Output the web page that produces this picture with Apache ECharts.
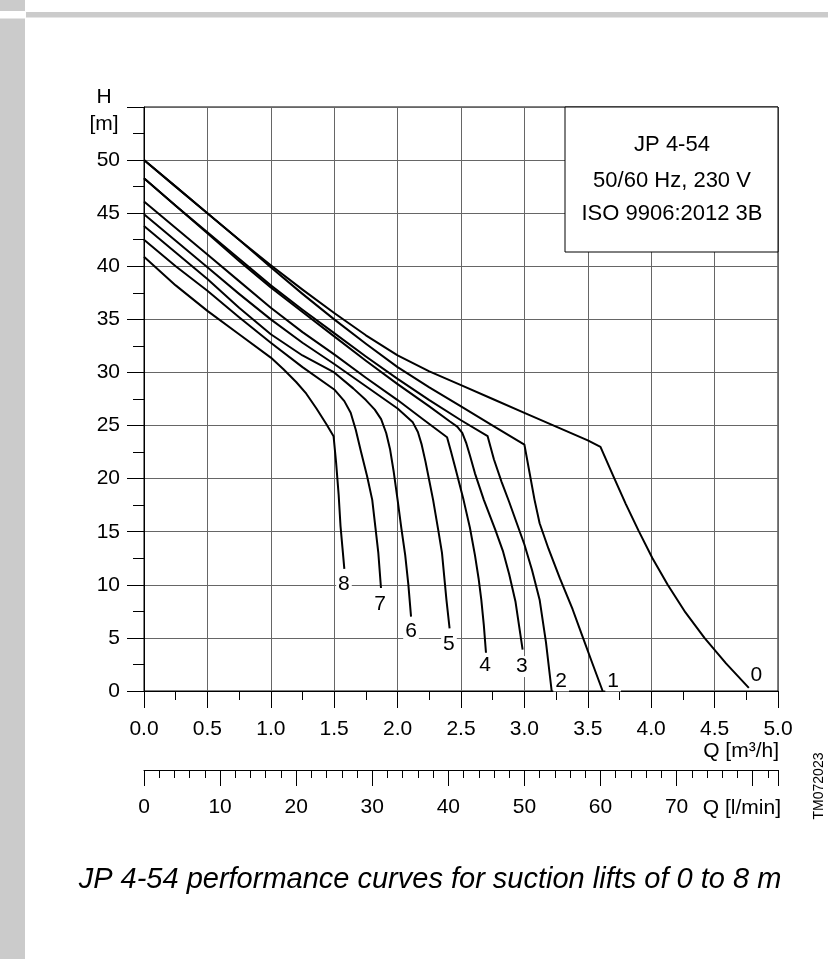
<!DOCTYPE html>
<html>
<head>
<meta charset="utf-8">
<script src="https://cdn.jsdelivr.net/npm/echarts@6/dist/echarts.min.js"></script>
<style>
  html, body { margin: 0; padding: 0; background: #fff; }
  #chart { width: 828px; height: 959px; }
</style>
</head>
<body>
<div id="chart"></div>
<script>
// performance curves, [Q m3/h, H m], one per suction lift 0..8 m
var curve0 = [[0,50],[0.25,47.5],[0.5,45],[0.75,42.5],[1,40.1],[1.25,37.8],[1.5,35.6],[1.75,33.5],[2,31.6],[2.25,30.1],[2.5,28.8],[2.75,27.5],[3,26.2],[3.25,24.9],[3.5,23.6],[3.6,23],[3.71,20],[3.8,17.6],[3.9,15.1],[4.01,12.5],[4.13,10],[4.27,7.4],[4.42,5],[4.59,2.6],[4.77,0.3]];
var curve1 = [[0,50],[0.25,47.5],[0.5,45],[0.75,42.5],[1,39.9],[1.25,37.4],[1.5,35],[1.75,32.7],[2,30.5],[2.25,28.6],[2.5,26.8],[2.75,25],[3,23.2],[3.04,20.6],[3.08,18],[3.12,15.8],[3.19,13.4],[3.28,10.6],[3.38,7.7],[3.45,5.4],[3.53,2.8],[3.617,0]];
var curve2 = [[0,48.3],[0.25,45.7],[0.5,43.2],[0.75,40.7],[1,38.2],[1.25,35.9],[1.5,33.7],[1.75,31.5],[2,29.4],[2.25,27.4],[2.5,25.5],[2.71,24],[2.76,21.8],[2.82,19.7],[2.88,17.8],[2.94,15.8],[3,13.8],[3.06,11.4],[3.12,8.6],[3.17,4.6],[3.215,0]];
var curve3 = [[0,48.3],[0.25,45.7],[0.5,43.1],[0.75,40.5],[1,38],[1.25,35.7],[1.5,33.4],[1.75,31.1],[2,28.9],[2.25,26.8],[2.41,25.4],[2.47,24.9],[2.51,24.3],[2.54,23.4],[2.57,22.2],[2.61,20.5],[2.68,18],[2.77,15.2],[2.83,13.2],[2.88,11],[2.93,8.4],[2.986,3.9]];
var curve4 = [[0,46.1],[0.25,43.6],[0.5,41.1],[0.75,38.6],[1,36.1],[1.25,33.8],[1.5,31.7],[1.75,29.5],[2,27.4],[2.2,25.6],[2.39,23.9],[2.42,22.6],[2.46,20.8],[2.52,18],[2.57,15.4],[2.61,12.8],[2.64,10.5],[2.66,8.6],[2.68,6.2],[2.697,3.6]];
var curve5 = [[0,44.9],[0.25,42.4],[0.5,39.9],[0.75,37.4],[1,35],[1.25,32.8],[1.5,30.8],[1.75,28.7],[2,26.6],[2.12,25.3],[2.16,24.4],[2.19,23.2],[2.22,21.6],[2.25,19.8],[2.28,18],[2.32,15.2],[2.35,13],[2.385,8.6],[2.41,5.9]];
var curve6 = [[0,43.8],[0.25,41.3],[0.5,38.8],[0.75,36.1],[1,33.6],[1.25,31.6],[1.5,30],[1.65,28.5],[1.75,27.4],[1.82,26.5],[1.87,25.6],[1.91,24.3],[1.94,22.8],[1.97,20.6],[2,18],[2.03,15.3],[2.06,12.8],[2.085,10],[2.106,7]];
var curve7 = [[0,42.5],[0.25,40],[0.5,37.7],[0.75,35.2],[1,32.8],[1.25,30.5],[1.5,28.4],[1.58,27.3],[1.63,26.2],[1.67,24.6],[1.71,22.6],[1.76,20.2],[1.8,18],[1.825,15.4],[1.848,13],[1.869,9.7]];
var curve8 = [[0,40.9],[0.25,38.2],[0.5,35.8],[0.75,33.6],[1,31.4],[1.1,30.3],[1.2,29.1],[1.28,28],[1.36,26.6],[1.44,25.1],[1.495,24],[1.515,21.5],[1.535,18.5],[1.55,15.5],[1.565,13.5],[1.58,11.5]];

var curves = [curve0, curve1, curve2, curve3, curve4, curve5, curve6, curve7, curve8];
var curveNames = ['0', '1', '2', '3', '4', '5', '6', '7', '8'];
// where each curve number is written
var labelPos = [[4.83,1.5],[3.70,0.95],[3.29,0.95],[2.98,2.3],[2.69,2.45],[2.405,4.4],[2.106,5.6],[1.861,8.2],[1.577,10.07]];

var infoLines = ['JP 4-54', '50/60 Hz, 230 V', 'ISO 9906:2012 3B'];
var caption = 'JP 4-54 performance curves for suction lifts of 0 to 8 m';

var fontName = 'Liberation Sans, Arial, sans-serif';
var grey = '#cbcbcb';
var ink = '#000';

var chart = echarts.init(document.getElementById('chart'));

var series = curves.map(function (c, i) {
  return {
    name: curveNames[i],
    type: 'line',
    data: c,
    showSymbol: false,
    smooth: false,
    silent: true,
    lineStyle: { color: '#000', width: 2, join: 'round' },
    z: 3
  };
});

series.push({
  type: 'scatter',
  silent: true,
  symbolSize: 0,
  z: 4,
  itemStyle: { opacity: 1 },
  data: labelPos.map(function (p, i) {
    return { value: p, name: curveNames[i] };
  }),
  label: {
    show: true,
    position: 'inside',
    formatter: '{b}',
    color: ink,
    opacity: 1,
    fontSize: 21,
    fontFamily: fontName,
    backgroundColor: '#fff',
    padding: [0, 2]
  }
});

var option = {
  animation: false,
  grid: [
    { left: 144, right: 50, top: 107, bottom: 268, show: true, borderColor: '#000', borderWidth: 1 },
    { left: 144, right: 50, top: 769, height: 1 }
  ],
  xAxis: [{
    gridIndex: 0,
    type: 'value',
    min: 0,
    max: 5,
    interval: 0.5,
    axisLine: { onZero: false, lineStyle: { color: '#000', width: 1 } },
    axisTick: { length: 17, lineStyle: { color: '#000', width: 1 } },
    minorTick: { show: true, splitNumber: 2, length: 9, lineStyle: { color: '#000', width: 1 } },
    splitLine: { show: true, lineStyle: { color: '#666', width: 1 } },
    axisLabel: {
      margin: 28,
      fontSize: 21,
      color: ink,
      fontFamily: fontName,
      formatter: function (v) { return v.toFixed(1); }
    }
  }, {
    gridIndex: 1,
    type: 'value',
    min: 0,
    max: 250 / 3,
    interval: 10,
    axisLine: { onZero: false, lineStyle: { color: '#000', width: 1 } },
    axisTick: { length: 16, lineStyle: { color: '#000', width: 1 } },
    minorTick: { show: true, splitNumber: 5, length: 8, lineStyle: { color: '#000', width: 1 } },
    splitLine: { show: false },
    axisLabel: {
      margin: 27,
      fontSize: 21,
      color: ink,
      fontFamily: fontName,
      formatter: function (v) { return v <= 70 ? String(v) : ''; }
    }
  }],
  yAxis: [{
    gridIndex: 0,
    type: 'value',
    min: 0,
    max: 55,
    interval: 5,
    axisLine: { show: true, lineStyle: { color: '#000', width: 1 } },
    axisTick: { show: true, length: 17, lineStyle: { color: '#000', width: 1 } },
    minorTick: { show: true, splitNumber: 2, length: 11, lineStyle: { color: '#000', width: 1 } },
    splitLine: { show: true, lineStyle: { color: '#666', width: 1 } },
    axisLabel: {
      margin: 24,
      fontSize: 21,
      color: ink,
      fontFamily: fontName,
      formatter: function (v) { return v <= 50 ? String(v) : ''; }
    }
  }, {
    gridIndex: 1,
    show: false,
    min: 0,
    max: 1
  }],
  series: series,
  graphic: [
    // page frame
    { type: 'rect', z: 0, shape: { x: 0, y: 0, width: 25, height: 11 }, style: { fill: grey } },
    { type: 'rect', z: 0, shape: { x: 0, y: 18.5, width: 25, height: 941 }, style: { fill: grey } },
    { type: 'rect', z: 0, shape: { x: 26, y: 12, width: 802, height: 5.5 }, style: { fill: grey } },
    // info box
    { type: 'rect', z: 10, shape: { x: 565, y: 107, width: 213, height: 145 }, style: { fill: '#fff', stroke: '#000', lineWidth: 1 } },
    { type: 'text', z: 11, x: 672, y: 145, style: { text: infoLines[0], font: '22px ' + fontName, fill: ink, textAlign: 'center', textVerticalAlign: 'middle' } },
    { type: 'text', z: 11, x: 672, y: 181, style: { text: infoLines[1], font: '22px ' + fontName, fill: ink, textAlign: 'center', textVerticalAlign: 'middle' } },
    { type: 'text', z: 11, x: 672, y: 214, style: { text: infoLines[2], font: '22px ' + fontName, fill: ink, textAlign: 'center', textVerticalAlign: 'middle' } },
    // axis titles
    { type: 'text', z: 11, x: 104, y: 97, style: { text: 'H', font: '21px ' + fontName, fill: ink, textAlign: 'center', textVerticalAlign: 'middle' } },
    { type: 'text', z: 11, x: 104, y: 124, style: { text: '[m]', font: '21px ' + fontName, fill: ink, textAlign: 'center', textVerticalAlign: 'middle' } },
    { type: 'text', z: 11, x: 779, y: 751, style: { text: 'Q [m³/h]', font: '21px ' + fontName, fill: ink, textAlign: 'right', textVerticalAlign: 'middle' } },
    { type: 'text', z: 11, x: 781, y: 808, style: { text: 'Q [l/min]', font: '21px ' + fontName, fill: ink, textAlign: 'right', textVerticalAlign: 'middle' } },
    { type: 'text', z: 11, x: 819, y: 786, rotation: Math.PI / 2, style: { text: 'TM072023', font: '14px ' + fontName, fill: ink, textAlign: 'center', textVerticalAlign: 'middle' } },
    // caption
    { type: 'text', z: 11, x: 430, y: 880, style: { text: caption, font: 'italic 29px ' + fontName, fill: ink, textAlign: 'center', textVerticalAlign: 'middle' } }
  ]
};

chart.setOption(option);
</script>
</body>
</html>
